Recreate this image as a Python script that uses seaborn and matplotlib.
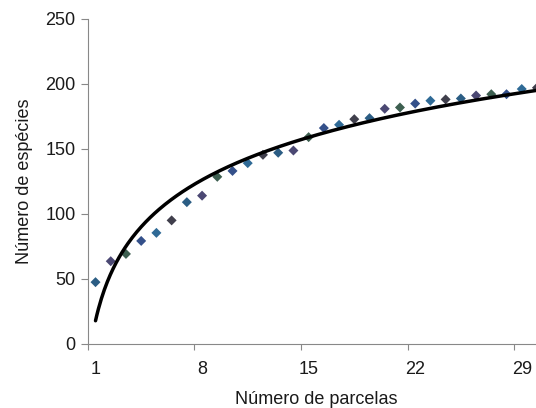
import numpy as np
import pandas as pd
import matplotlib
matplotlib.use("Agg")
import matplotlib.pyplot as plt
import seaborn as sns

# Species accumulation: cumulative species count per number of plots
parcelas = list(range(1, 31))
especies = [47.5, 63.6, 69.2, 79.2, 85.4, 95.0, 109.0, 114.0, 128.5, 133.0,
            139.0, 145.4, 147.0, 148.7, 159.0, 166.0, 168.5, 172.8, 173.6, 180.8,
            181.8, 184.8, 187.0, 188.0, 188.7, 191.0, 192.0, 192.0, 196.0, 197.0]
x_tick_labels = [1, 8, 15, 22, 29]
y_ticks = [0, 50, 100, 150, 200, 250]

point_colors = ["#2b5d84", "#4b4873", "#3d5f50", "#34508a", "#2f6a96", "#403f4c"]

df = pd.DataFrame({"parcelas": parcelas, "especies": especies})
df["grupo"] = [str(i % len(point_colors)) for i in range(len(df))]

# Logarithmic trend line fitted to the points
a, b = np.polyfit(np.log(df["parcelas"]), df["especies"], 1)
xs = np.linspace(1, 30, 300)
trend = pd.DataFrame({"x": xs, "y": a * np.log(xs) + b})

sns.set_theme(style="white")
plt.rcParams["font.family"] = ["Liberation Sans", "DejaVu Sans"]

fig = plt.figure(figsize=(5.36, 4.08), dpi=100)
ax = fig.add_axes([0.164, 0.157, 0.852, 0.797])

sns.scatterplot(data=df, x="parcelas", y="especies", hue="grupo",
                palette={str(i): c for i, c in enumerate(point_colors)},
                marker="D", s=26, linewidth=0, legend=False, ax=ax, zorder=2)
sns.lineplot(data=trend, x="x", y="y", color="black", linewidth=2.5, ax=ax, zorder=3)

ax.set_xlim(0.5, 30.5)
ax.set_ylim(0, 250)
ax.set_yticks(y_ticks)
ax.set_yticklabels([str(v) for v in y_ticks], fontsize=13, color="#1a1a1a")

# category-boundary tick marks, labels centered on categories
ax.set_xticks([0.5, 7.5, 14.5, 21.5, 28.5])
ax.set_xticklabels([])
ax.set_xticks(x_tick_labels, minor=True)
ax.set_xticklabels([str(v) for v in x_tick_labels], minor=True, fontsize=13, color="#1a1a1a")
ax.tick_params(axis="x", which="major", length=4, width=0.8, color="#888888", direction="out", bottom=True)
ax.tick_params(axis="x", which="minor", length=0, pad=12)
ax.tick_params(axis="y", length=5, width=0.8, color="#888888", direction="out", left=True, pad=4)

for side in ["top", "right"]:
    ax.spines[side].set_visible(False)
for side in ["left", "bottom"]:
    ax.spines[side].set_color("#888888")
    ax.spines[side].set_linewidth(0.8)

ax.set_xlabel("Número de parcelas", fontsize=13, color="#1a1a1a", labelpad=10)
ax.set_ylabel("Número de espécies", fontsize=13, color="#1a1a1a", labelpad=9)

fig.savefig("out.png", dpi=100)
